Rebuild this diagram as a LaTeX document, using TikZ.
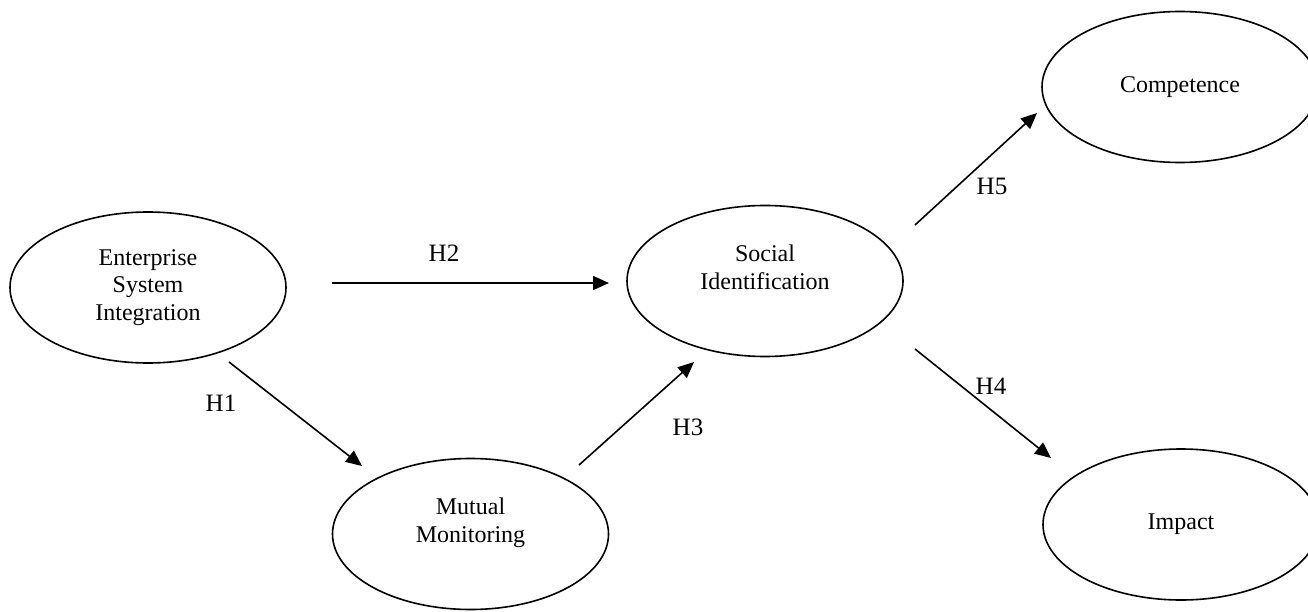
\documentclass[tikz,border=0pt]{standalone}
\usepackage{fontspec}
\setmainfont{Liberation Serif}
\usetikzlibrary{arrows.meta,shapes.geometric}
\begin{document}
\begin{tikzpicture}[x=1pt,y=-1pt,
  oval/.style={draw,line width=1.6pt,ellipse,minimum width=276pt,minimum height=151pt,inner sep=0pt,align=center,font=\fontsize{24}{27.6}\selectfont},
  hyp/.style={font=\fontsize{25}{28}\selectfont,inner sep=0pt},
  link/.style={line width=1.6pt,-{Triangle[length=16pt,width=14pt]}}]
\useasboundingbox (0,0) rectangle (1308,612);
\clip (0,0) rectangle (1308,612);
\node[oval] (esi) at (148,287.5) {Enterprise\\System\\Integration};
\node[oval] (mm) at (470.5,534) {Mutual\\Monitoring\\\mbox{}};
\node[oval] (si) at (765,281) {Social\\Identification\\\mbox{}};
\node[oval] (comp) at (1180,87) {Competence};
\node[oval] (imp) at (1181,524.5) {Impact};
\coordinate (h1a) at (229,362);
\coordinate (h1b) at (362,466);
\coordinate (h2a) at (332,283);
\coordinate (h2b) at (609,283);
\coordinate (h3a) at (579,465);
\coordinate (h3b) at (694,362);
\coordinate (h4a) at (915,349);
\coordinate (h4b) at (1051,458);
\coordinate (h5a) at (915,225);
\coordinate (h5b) at (1037,113);
\draw[link] (h1a) -- (h1b);
\draw[link] (h2a) -- (h2b);
\draw[link] (h3a) -- (h3b);
\draw[link] (h4a) -- (h4b);
\draw[link] (h5a) -- (h5b);
\node[hyp] (l1) at (221,403) {H1};
\node[hyp] (l2) at (444,253) {H2};
\node[hyp] (l3) at (688,427) {H3};
\node[hyp] (l4) at (991,386) {H4};
\node[hyp] (l5) at (992,186) {H5};
\end{tikzpicture}
\end{document}
